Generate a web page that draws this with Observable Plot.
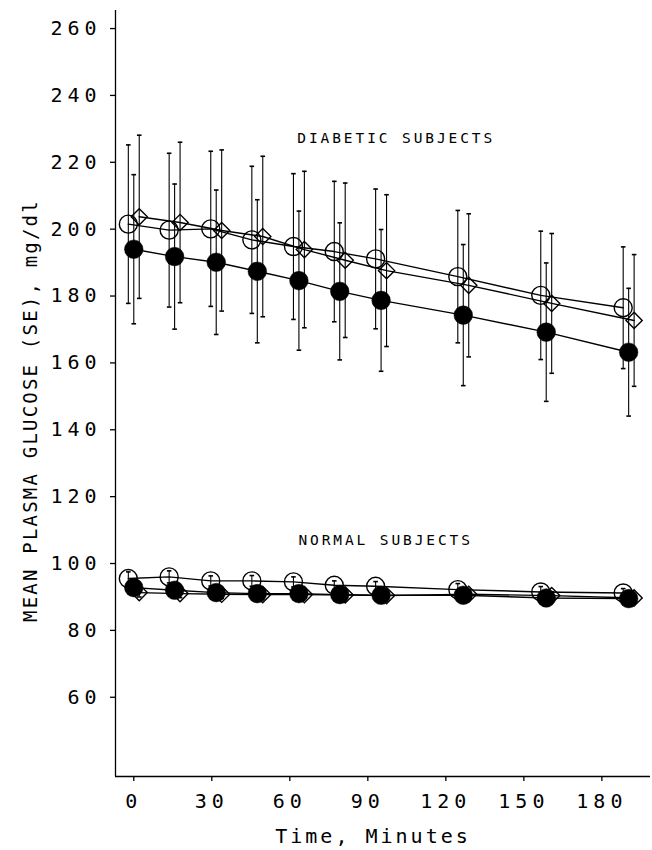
<!DOCTYPE html>
<html>
<head>
<meta charset="utf-8">
<script src="https://cdn.jsdelivr.net/npm/d3@7"></script>
<script src="https://cdn.jsdelivr.net/npm/@observablehq/plot@0.6"></script>
<style>
  html, body { margin: 0; padding: 0; background: #fff; }
  #chart svg { display: block; }
  #chart g[aria-label="y-axis tick label"] text { letter-spacing: 5px; }
  #chart g[aria-label="x-axis tick label"] text { letter-spacing: 5px; }
  #chart g[aria-description="annotation"] text { letter-spacing: 2.9px; }
  #chart g[aria-description="ylabel"] text { letter-spacing: 2.2px; }
  #chart g[aria-description="xlabel"] text { letter-spacing: 3px; }
</style>
</head>
<body>
<div id="chart"></div>
<script>
// Nominal sampling times (minutes)
const minutes = [0, 15, 30, 45, 60, 75, 90, 120, 150, 180];
// Horizontal positions of the markers (the original plot staggers the three groups)
const xOpenCircle = [-2.1, 13.6, 29.6, 45.4, 61.4, 77.1, 93.0, 124.6, 156.5, 188.2];
const xFilledCircle = [0, 15.7, 31.7, 47.5, 63.5, 79.2, 95.1, 126.7, 158.6, 190.3];
const xDiamond = [2.1, 17.8, 33.8, 49.6, 65.6, 81.3, 97.2, 128.8, 160.7, 192.4];

// Diabetic subjects: mean plasma glucose (mg/dl) and SE
const diabOpenMean = [201.5, 199.7, 200.1, 196.8, 194.8, 193.3, 191.1, 185.8, 180.2, 176.5];
const diabOpenSE = [23.7, 23.0, 23.2, 22.0, 21.8, 21.0, 20.9, 19.8, 19.2, 18.2];
const diabDiamondMean = [203.7, 202.0, 199.6, 197.8, 193.9, 190.7, 187.6, 183.2, 177.8, 172.7];
const diabDiamondSE = [24.4, 24.0, 24.1, 24.0, 23.4, 23.1, 22.7, 21.4, 20.9, 19.7];
const diabFilledMean = [194.0, 191.8, 190.1, 187.4, 184.6, 181.4, 178.7, 174.3, 169.2, 163.2];
const diabFilledSE = [22.3, 21.7, 21.6, 21.4, 20.8, 20.5, 21.2, 21.1, 20.7, 19.1];

// Normal subjects
const normOpenMean = [95.5, 96.0, 94.8, 94.8, 94.5, 93.5, 93.2, 92.2, 91.5, 91.2];
const normOpenSE = [2.0, 1.8, 1.5, 1.6, 1.5, 1.3, 1.4, 1.8, 1.6, 1.3];
const normDiamondMean = [91.3, 91.0, 90.8, 90.7, 90.7, 90.6, 90.4, 90.8, 90.4, 89.7];
const normDiamondSE = [1.3, 1.2, 1.2, 1.2, 1.1, 1.1, 1.1, 1.2, 1.1, 1.1];
const normFilledMean = [92.8, 92.0, 91.3, 91.0, 91.0, 90.7, 90.5, 90.5, 89.7, 89.5];
const normFilledSE = [1.5, 1.4, 1.4, 1.3, 1.3, 1.3, 1.2, 1.3, 1.2, 1.2];

const xTicks = [0, 30, 60, 90, 120, 150, 180];
const yTicks = [60, 80, 100, 120, 140, 160, 180, 200, 220, 240, 260];
const xDomain = [-7.03, 198.7];
const yDomain = [36.3, 265.4];

const annotationText = ["DIABETIC SUBJECTS", "NORMAL SUBJECTS"];
const annotationX = [62.9, 63.3];
const annotationY = [227.1, 106.9];

const yLabel = "MEAN PLASMA GLUCOSE (SE), mg/dl";
const xLabel = "Time, Minutes";

// Build a tidy table from the arrays
const seriesDefs = [
  {group: "Diabetic", kind: "open", xs: xOpenCircle, mean: diabOpenMean, se: diabOpenSE},
  {group: "Diabetic", kind: "diamond", xs: xDiamond, mean: diabDiamondMean, se: diabDiamondSE},
  {group: "Diabetic", kind: "filled", xs: xFilledCircle, mean: diabFilledMean, se: diabFilledSE},
  {group: "Normal", kind: "open", xs: xOpenCircle, mean: normOpenMean, se: normOpenSE},
  {group: "Normal", kind: "diamond", xs: xDiamond, mean: normDiamondMean, se: normDiamondSE},
  {group: "Normal", kind: "filled", xs: xFilledCircle, mean: normFilledMean, se: normFilledSE}
];
const rows = seriesDefs.flatMap(s => minutes.map((m, i) => ({
  group: s.group, kind: s.kind, minute: m, x: s.xs[i], mean: s.mean[i],
  lo: s.mean[i] - s.se[i], hi: s.mean[i] + s.se[i]
})));
const annotations = annotationText.map((t, i) => ({text: t, x: annotationX[i], y: annotationY[i]}));

const capSymbol = {
  draw(context, size) {
    const w = Math.sqrt(size / Math.PI);
    context.moveTo(-w, 0);
    context.lineTo(w, 0);
  }
};

const chart = Plot.plot({
  width: 652,
  height: 850,
  marginLeft: 115,
  marginRight: 2,
  marginTop: 10,
  marginBottom: 74,
  style: {fontFamily: "'DejaVu Sans Mono', monospace", fontSize: "20px", background: "#fff", color: "#000"},
  x: {domain: xDomain},
  y: {domain: yDomain},
  marks: [
    Plot.ruleX([xDomain[0]], {stroke: "#000", strokeWidth: 1.3}),
    Plot.ruleY([yDomain[0]], {stroke: "#000", strokeWidth: 1.3}),
    Plot.axisY({ticks: yTicks, tickSize: 5, tickPadding: 9, fontSize: 20, label: null, strokeWidth: 1.3}),
    Plot.axisX({ticks: xTicks, tickSize: 5, tickPadding: 12, fontSize: 20, label: null, strokeWidth: 1.3}),
    Plot.line(rows, {x: "x", y: "mean", z: d => d.group + d.kind, stroke: "#000", strokeWidth: 1.4}),
    Plot.ruleX(rows, {x: "x", y1: "lo", y2: "hi", stroke: "#000", strokeWidth: 1.1}),
    Plot.dot(rows, {x: "x", y: "lo", symbol: capSymbol, r: 2.3, stroke: "#000", strokeWidth: 1.6, fill: "none"}),
    Plot.dot(rows, {x: "x", y: "hi", symbol: capSymbol, r: 2.3, stroke: "#000", strokeWidth: 1.6, fill: "none"}),
    Plot.dot(rows.filter(d => d.kind === "open"), {x: "x", y: "mean", r: 9, stroke: "#000", strokeWidth: 1.4, fill: "none"}),
    Plot.dot(rows.filter(d => d.kind === "diamond"), {x: "x", y: "mean", symbol: "diamond2", r: 7.3, stroke: "#000", strokeWidth: 1.4, fill: "none"}),
    Plot.dot(rows.filter(d => d.kind === "filled"), {x: "x", y: "mean", r: 9.3, fill: "#000", stroke: "#000", strokeWidth: 0.5}),
    Plot.text(annotations, {x: "x", y: "y", text: "text", textAnchor: "start", fontSize: 14.5, fill: "#000", ariaDescription: "annotation"}),
    Plot.text([yLabel], {text: d => d, frameAnchor: "left", textAnchor: "middle", lineAnchor: "middle", rotate: -90, dx: -85, dy: 17, fontSize: 19, fill: "#000", ariaDescription: "ylabel"}),
    Plot.text([xLabel], {text: d => d, frameAnchor: "bottom", textAnchor: "middle", lineAnchor: "middle", dx: -10, dy: 60, fontSize: 20, fill: "#000", ariaDescription: "xlabel"})
  ]
});
document.getElementById("chart").appendChild(chart);
</script>
</body>
</html>
